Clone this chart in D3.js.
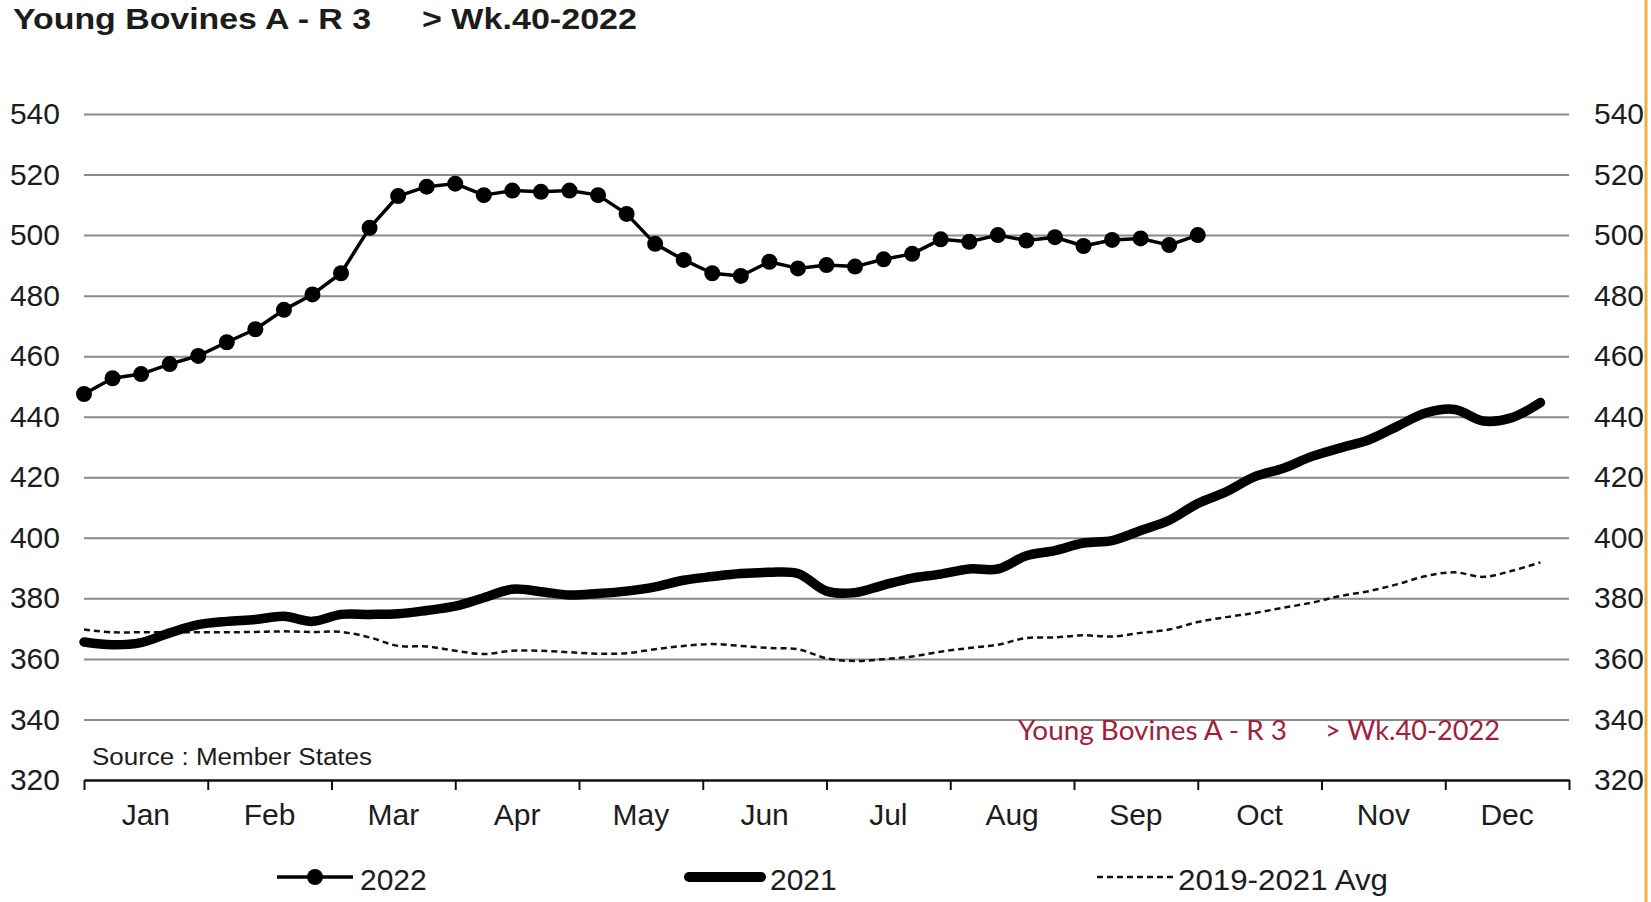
<!DOCTYPE html>
<html>
<head>
<meta charset="utf-8">
<script src="https://cdn.jsdelivr.net/npm/d3@7"></script>
<style>
  html, body { margin: 0; padding: 0; background: #ffffff; }
  svg { display: block; }
  text { font-family: "Liberation Sans", Arial, sans-serif; fill: #1c1c1c; }
</style>
</head>
<body>
<svg id="chart" width="1651" height="902"></svg>
<script>
// ---- data ----
const months = ["Jan","Feb","Mar","Apr","May","Jun","Jul","Aug","Sep","Oct","Nov","Dec"];
const yTicks = [320,340,360,380,400,420,440,460,480,500,520,540];

const values2022 = [447.5,452.7,454.1,457.4,460.1,464.6,468.9,475.3,480.4,487.4,
  502.4,512.9,516.0,517.0,513.2,514.7,514.3,514.7,513.2,507.0,
  497.1,491.8,487.4,486.5,491.2,489.0,490.1,489.6,492.0,493.8,
  498.6,497.8,500.0,498.2,499.3,496.4,498.4,498.9,496.7,500.0];

const values2021 = [365.6,364.7,365.4,368.6,371.3,372.4,373.0,374.1,372.4,374.7,
  374.7,374.9,376.0,377.4,380.2,383.0,382.2,381.1,381.6,382.4,
  383.8,386.0,387.2,388.2,388.6,388.2,382.4,381.9,384.4,386.7,
  388.0,389.7,389.7,394.1,395.8,398.3,399.1,402.4,405.8,411.3,
  415.2,420.2,423.0,426.9,429.7,432.4,436.9,441.3,442.4,438.6,
  439.7,444.7];

const valuesAvg = [369.7,368.8,368.8,368.8,368.8,368.8,368.9,369.1,368.9,368.9,
  367.1,364.3,364.1,362.7,361.6,362.7,362.7,362.2,361.7,361.9,
  363.2,364.3,364.9,364.3,363.6,363.2,360.2,359.3,359.9,360.8,
  362.4,363.6,364.7,366.9,367.1,367.8,367.4,368.6,369.7,372.2,
  373.8,375.2,376.9,378.6,380.8,382.4,384.7,387.4,388.6,387.1,
  389.1,391.9];

const titleMain = "Young Bovines A - R 3";
const titleWeek = "> Wk.40-2022";
const sourceText = "Source : Member  States";
const legendLabels = ["2022","2021","2019-2021 Avg"];

// ---- layout ----
const svg = d3.select("#chart");
const L = 84, R = 1569, T = 114, B = 780;

const x = d3.scaleLinear().domain([1, 53]).range([L, R]);
const y = d3.scaleLinear().domain([320, 540]).range([B, T]);
const monthEdge = d3.scaleLinear().domain([0, 12]).range([L, R]);
const monthBand = d3.scaleBand().domain(months).range([L, R]);

// orange border on the right
svg.append("line").attr("x1", 1646).attr("x2", 1646).attr("y1", 0).attr("y2", 902)
  .attr("stroke", "#f2b040").attr("stroke-width", 3);

// title
svg.append("text").attr("x", 13).attr("y", 29).attr("font-size", 30).attr("font-weight", "bold")
  .attr("textLength", 358).attr("lengthAdjust", "spacingAndGlyphs").text(titleMain);
svg.append("text").attr("x", 422).attr("y", 29).attr("font-size", 30).attr("font-weight", "bold")
  .attr("textLength", 215).attr("lengthAdjust", "spacingAndGlyphs").text(titleWeek);

// gridlines
const grid = svg.append("g").attr("transform", `translate(${L},0)`)
  .call(d3.axisRight(y).tickValues(yTicks.filter(v => v !== 320)).tickSize(R - L).tickFormat(""));
grid.select(".domain").remove();
grid.selectAll(".tick line").attr("stroke", "#8a8a8a").attr("stroke-width", 2);

// left labels
const yl = svg.append("g").attr("transform", `translate(${L},0)`)
  .call(d3.axisLeft(y).tickValues(yTicks).tickSize(0).tickPadding(24).tickFormat(d3.format("d")));
yl.select(".domain").remove();
yl.selectAll("text").attr("font-size", 30).style("fill", "#1c1c1c");

// right labels
const yr = svg.append("g").attr("transform", `translate(${R},0)`)
  .call(d3.axisRight(y).tickValues(yTicks).tickSize(0).tickPadding(25).tickFormat(d3.format("d")));
yr.select(".domain").remove();
yr.selectAll("text").attr("font-size", 30).style("fill", "#1c1c1c");

// bottom axis (month edges)
const xa = svg.append("g").attr("transform", `translate(0,${B})`)
  .call(d3.axisBottom(monthEdge).tickValues(d3.range(0, 13)).tickSize(10).tickSizeOuter(0).tickFormat(""));
xa.select(".domain").attr("stroke", "#111").attr("stroke-width", 2.5);
xa.selectAll(".tick line").attr("stroke", "#111").attr("stroke-width", 2);

// month labels
svg.append("g").selectAll("text").data(months).join("text")
  .attr("x", d => monthBand(d) + monthBand.bandwidth() / 2)
  .attr("y", 825).attr("text-anchor", "middle").attr("font-size", 30).text(d => d);

// series
const line2022 = d3.line().x((d, i) => x(i + 1)).y(d => y(d));
const lineSmooth = d3.line().x((d, i) => x(i + 1)).y(d => y(d)).curve(d3.curveCatmullRom.alpha(0.5));

svg.append("path").datum(valuesAvg).attr("d", lineSmooth)
  .attr("fill", "none").attr("stroke", "#111").attr("stroke-width", 2.5).attr("stroke-dasharray", "6,4");

svg.append("path").datum(values2021).attr("d", lineSmooth)
  .attr("fill", "none").attr("stroke", "#000").attr("stroke-width", 9.5)
  .attr("stroke-linejoin", "round").attr("stroke-linecap", "round");

svg.append("path").datum(values2022).attr("d", line2022)
  .attr("fill", "none").attr("stroke", "#000").attr("stroke-width", 3.5).attr("stroke-linejoin", "round");
svg.append("g").selectAll("circle").data(values2022).join("circle")
  .attr("cx", (d, i) => x(i + 1)).attr("cy", d => y(d)).attr("r", 8).attr("fill", "#000");

// source note
svg.append("text").attr("x", 92).attr("y", 765).attr("font-size", 23)
  .attr("textLength", 280).attr("lengthAdjust", "spacingAndGlyphs").text(sourceText);

// red watermark title
svg.append("text").attr("x", 1018).attr("y", 740).attr("font-size", 27)
  .style("font-family", "Lato, 'Open Sans', sans-serif").style("fill", "#a0203c")
  .attr("textLength", 269).attr("lengthAdjust", "spacingAndGlyphs").text(titleMain);
svg.append("text").attr("x", 1325).attr("y", 740).attr("font-size", 27)
  .style("font-family", "Lato, 'Open Sans', sans-serif").style("fill", "#a0203c")
  .attr("textLength", 175).attr("lengthAdjust", "spacingAndGlyphs").text(titleWeek);

// legend
const lg = svg.append("g");
const ly = 877, lty = 890;
lg.append("line").attr("x1", 277).attr("x2", 353).attr("y1", ly).attr("y2", ly)
  .attr("stroke", "#000").attr("stroke-width", 3.5);
lg.append("circle").attr("cx", 315).attr("cy", ly).attr("r", 8).attr("fill", "#000");
lg.append("text").attr("x", 360).attr("y", lty).attr("font-size", 30).text(legendLabels[0]);

lg.append("line").attr("x1", 689).attr("x2", 761).attr("y1", ly).attr("y2", ly)
  .attr("stroke", "#000").attr("stroke-width", 10).attr("stroke-linecap", "round");
lg.append("text").attr("x", 770).attr("y", lty).attr("font-size", 30).text(legendLabels[1]);

lg.append("line").attr("x1", 1097).attr("x2", 1173).attr("y1", ly).attr("y2", ly)
  .attr("stroke", "#111").attr("stroke-width", 2.5).attr("stroke-dasharray", "6,4");
lg.append("text").attr("x", 1178).attr("y", lty).attr("font-size", 30)
  .attr("textLength", 210).attr("lengthAdjust", "spacingAndGlyphs").text(legendLabels[2]);
</script>
</body>
</html>
